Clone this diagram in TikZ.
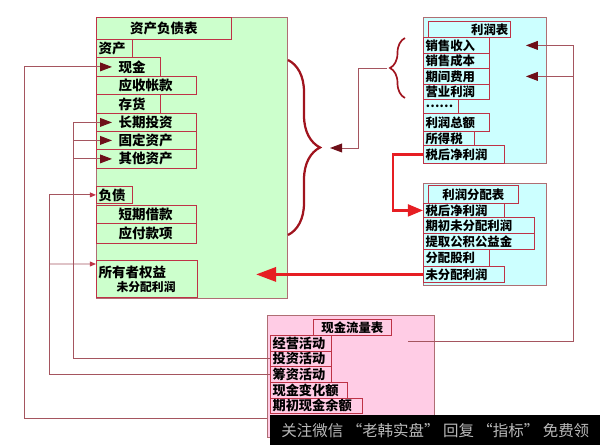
\documentclass[tikz,border=0pt]{standalone}
\usepackage{fontspec}
\setmainfont{Noto Sans CJK SC}
\usepackage{tikz}
\usetikzlibrary{positioning,arrows.meta,decorations.pathreplacing}

\definecolor{bsgreen}{RGB}{204,255,204}
\definecolor{iscyan}{RGB}{204,255,255}
\definecolor{cfpink}{RGB}{255,204,229}
\definecolor{frame}{RGB}{175,110,115}
\definecolor{cellline}{RGB}{190,50,70}
\definecolor{linkcol}{RGB}{165,85,95}
\definecolor{bracecol}{RGB}{160,20,30}
\definecolor{tipcol}{RGB}{110,15,25}
\definecolor{flowred}{RGB}{230,30,35}

\begin{document}
\begin{tikzpicture}[x=0.025cm,y=-0.025cm,
	panel/.style={draw=frame,line width=0.8pt,anchor=north west,inner sep=0pt},
	cell/.style 2 args={draw=cellline,line width=0.6pt,anchor=north west,inner xsep=1.5pt,inner ysep=0pt,
		text width=#1*0.025cm-3pt,minimum height=#2*0.025cm,align=left,font=\bfseries\fontsize{9.6}{10}\selectfont},
	title/.style 2 args={cell={#1}{#2},align=center},
	ind/.style={execute at begin node={\hspace*{0.5cm}}},
	small/.style={font=\bfseries\fontsize{8.8}{9}\selectfont},
	cash/.style={font=\bfseries\fontsize{9.4}{10}\selectfont},
	link/.style={draw=linkcol,line width=0.7pt},
	tip/.style={-{Triangle[length=0.3cm,width=0.22cm,color=tipcol]}},
	smalltip/.style={-{Triangle[length=0.15cm,width=0.12cm,color=cellline]}},
	redarrow/.style={draw=flowred,line width=1.6pt},
	bigbrace/.style={draw=bracecol,line width=1.6pt,decorate,decoration={brace,amplitude=#1}},
	wm/.style={fill=black,anchor=north west,inner sep=0pt,minimum width=8.25cm,minimum height=0.75cm,
		text=gray!55!white,font=\fontsize{11}{12}\selectfont}]

		\useasboundingbox (0,0) rectangle (600,445);

		%balance sheet
		\node[panel,fill=bsgreen,minimum width=4.775cm,minimum height=7.025cm] (bs) at (96,17) {};
		\node[title={135}{22}] (bst) at (96,17) {资产负债表};
		\node[cell={36}{18}] (zc) at (96,39) {资产};
		\node[cell={64}{19},ind] (xj) at (96,57) {现金};
		\node[cell={100}{18},ind] (ys) at (96,76) {应收帐款};
		\node[cell={64}{19},ind] (ch) at (96,94) {存货};
		\node[cell={100}{18},ind] (cq) at (96,113) {长期投资};
		\node[cell={100}{18},ind] (gd) at (96,131) {固定资产};
		\node[cell={100}{19},ind] (qt) at (96,149) {其他资产};
		\node[cell={36}{17}] (fz) at (96,186) {负债};
		\node[cell={100}{18},ind] (dq) at (96,205) {短期借款};
		\node[cell={100}{20},ind] (yf) at (96,223) {应付款项};
		\node[cell={101}{37}] (qy) at (96,260) {所有者权益\\{\fontsize{8.4}{11}\selectfont\hspace*{0.45cm}未分配利润}};

		%income statement
		\node[panel,fill=iscyan,minimum width=3.075cm,minimum height=3.65cm] (is) at (423,17) {};
		\node[title={82}{16},small,align=right] (ist) at (428,21) {利润表};
		\node[cell={66}{16},small] (xssr) at (423,37) {销售收入};
		\node[cell={66}{15},small] (xscb) at (423,53) {销售成本};
		\node[cell={66}{16},small] (qjfy) at (423,68) {期间费用};
		\node[cell={66}{15},small] (yylr) at (423,84) {营业利润};
		\node[cell={35}{14},small] (dots) at (423,99) {……};
		\node[cell={66}{18},small] (lrze) at (423,113) {利润总额};
		\node[cell={51}{14},small] (sds) at (423,131) {所得税};
		\node[cell={81}{18},small] (shjlr) at (423,145) {税后净利润};

		%profit distribution
		\node[panel,fill=iscyan,minimum width=3.075cm,minimum height=2.55cm] (pd) at (423,183) {};
		\node[title={90}{18},small] (pdt) at (428,185) {利润分配表};
		\node[cell={81}{14},small] (pd1) at (423,203) {税后净利润};
		\node[cell={111}{16},small] (pd2) at (423,217) {期初未分配利润};
		\node[cell={111}{16},small] (pd3) at (423,233) {提取公积公益金};
		\node[cell={66}{17},small] (pd4) at (423,249) {分配股利};
		\node[cell={81}{16},small] (pd5) at (423,266) {未分配利润};

		%cash flow
		\node[panel,fill=cfpink,minimum width=4.175cm,minimum height=3.05cm] (cf) at (267,315) {};
		\node[title={78}{16},small] (cft) at (313,319) {现金流量表};
		\node[cell={61}{16},cash] (jy) at (270,335) {经营活动};
		\node[cell={61}{15},cash] (tz) at (270,351) {投资活动};
		\node[cell={61}{16},cash] (cz) at (270,366) {筹资活动};
		\node[cell={77}{16},cash] (bh) at (270,382) {现金变化额};
		\node[cell={92}{15},cash] (qc) at (270,398) {期初现金余额};

		%free ends
		\coordinate (cfend) at (267,418);
		\coordinate (cfout) at (408,341);
		\coordinate (itip) at (387,68);
		\coordinate (btip) at (330,148);

		%braces
		\draw[bigbrace=0.8cm] (288,60) -- (288,235);
		\draw[bigbrace=0.375cm,line width=1.2pt] (405,98) -- (405,38);

		%edges
		\draw[link,tip] (cfend) -- (24,418) |- ([xshift=0.4cm]xj.west);
		\draw[link,tip] (tz.west) -- (73,0 |- tz.west) |- ([xshift=0.4cm]cq.west);
		\draw[link,tip] (73,0 |- gd.west) -- ([xshift=0.4cm]gd.west);
		\draw[link,tip] (73,0 |- qt.west) -- ([xshift=0.4cm]qt.west);
		\draw[link,smalltip] (cz.west) -- (49,0 |- cz.west) |- (fz.west);
		\draw[link,smalltip] (49,0 |- qy.north west) ++(0,4) -- ([yshift=-0.1cm]qy.north west);
		\draw[link] (cfout) -| (573,0 |- xssr.east);
		\draw[link,tip] (573,0 |- xssr.east) -- ([xshift=0.9cm]xssr.east);
		\draw[link,tip] (573,0 |- qjfy.east) -- ([xshift=0.9cm]qjfy.east);
		\draw[link,tip] (itip) -| (358,0 |- btip) -- (btip);
		\draw[redarrow,-{Triangle[length=0.38cm,width=0.3cm]}] (shjlr.west) -- (393,0 |- shjlr.west) |- (pd1.west);
		\draw[redarrow,-{Triangle[length=0.5cm,width=0.36cm]}] (pd5.west) -- ([xshift=-0.8cm]bs.east |- pd5.west);

		%watermark
		\node[wm] (wm) at (270,415) {关注微信 “老韩实盘” 回复 “指标” 免费领};

\end{tikzpicture}
\end{document}
